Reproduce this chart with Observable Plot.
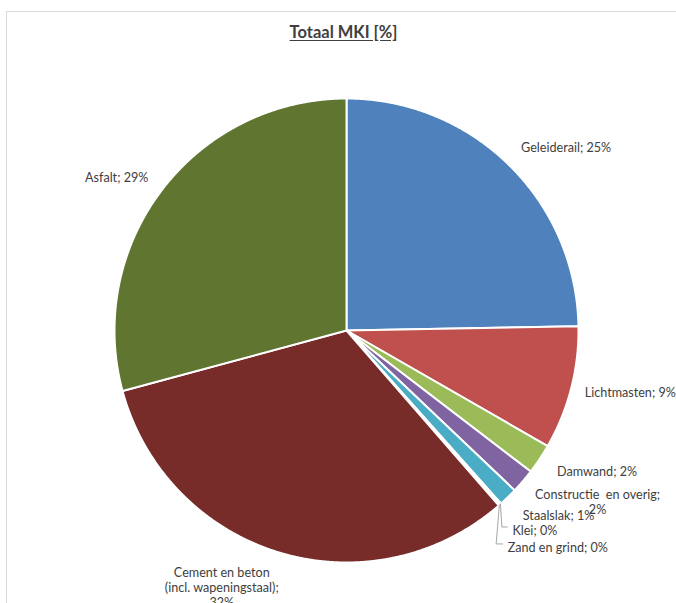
<!DOCTYPE html>
<html>
<head>
<meta charset="utf-8">
<script src="https://cdn.jsdelivr.net/npm/d3@7"></script>
<script src="https://cdn.jsdelivr.net/npm/@observablehq/plot@0.6"></script>
<style>
  html, body { margin: 0; padding: 0; background: #fff; }
  #wrap { position: relative; width: 676px; height: 603px; overflow: hidden; }
  #frame { position: absolute; left: 6px; top: 11px; right: -2px; bottom: -2px;
           border-top: 1px solid #D9D9D9; border-left: 1px solid #D9D9D9; }
  #title { position: absolute; top: 22px; left: 0; width: 687px; text-align: center;
           font: bold 16.5px Lato, "Open Sans", sans-serif; color: #404040;
           text-decoration: underline; text-underline-offset: 2px; }
  #chart { position: absolute; left: 0; top: 0; }
</style>
</head>
<body>
<div id="wrap">
  <div id="frame"></div>
  <div id="title">Totaal MKI [%]</div>
  <div id="chart"></div>
</div>
<script>
// ---- data ----
const categories = ["Geleiderail", "Lichtmasten", "Damwand", "Constructie  en overig", "Staalslak",
                    "Klei", "Zand en grind", "Cement en beton\n(incl. wapeningstaal)", "Asfalt"];
const values = [24.7, 8.6, 2.1, 1.7, 1.3, 0.1, 0.1, 32.2, 29.2];
const colors = ["#4F81BD", "#C0504D", "#9BBB59", "#8064A2", "#4BACC6",
                "#F79646", "#2C4D75", "#772C2A", "#5F7530"];

// ---- label layout (separate from data) ----
const labelSep = [" ", " ", " ", "\n", " ", " ", " ", "\n", " "];
const labelRadius = [1.09, 1.06, 1.09, 1.31, 1.10, 1.12, 1.165, 1.23, 1.08];
const labelAngleShift = [-0.8, 0, 0, -6.2, 0.4, 1.9, 4.6, 9, 0.3];
const labelAnchor = ["start", "start", "start", "middle", "start", "start", "start", "middle", "end"];
const leaderFor = ["Klei", "Zand en grind"];
const leaderCornerDx = { "Klei": 0.006, "Zand en grind": -0.014 };

// ---- build slices ----
const total = d3.sum(values);
let acc = 0;
const slices = categories.map((name, i) => {
  const a0 = acc / total * 2 * Math.PI;
  acc += values[i];
  const a1 = acc / total * 2 * Math.PI;
  const n = Math.max(2, Math.ceil((a1 - a0) / 0.004));
  const pts = [{x: 0, y: 0}];
  for (let k = 0; k <= n; k++) {
    const a = a0 + (a1 - a0) * k / n;
    pts.push({x: Math.sin(a), y: Math.cos(a)});
  }
  pts.push({x: 0, y: 0});
  const mid = (a0 + a1) / 2;
  const la = mid + labelAngleShift[i] * Math.PI / 180;
  const r = labelRadius[i];
  return {
    name, value: values[i], color: colors[i], pts, mid,
    label: `${name};${labelSep[i]}${Math.round(values[i])}%`,
    lx: r * Math.sin(la), ly: r * Math.cos(la), anchor: labelAnchor[i]
  };
});

const leaders = slices.filter(s => leaderFor.includes(s.name)).map(s => {
  const ex = Math.sin(s.mid), ey = Math.cos(s.mid);
  const cx = ex + leaderCornerDx[s.name];
  return [{x: ex, y: ey}, {x: cx, y: s.ly + 0.015}, {x: s.lx - 0.022, y: s.ly + 0.015}];
});

const marks = [];
slices.forEach(s => {
  marks.push(Plot.line(s.pts, {x: "x", y: "y", fill: s.color, stroke: "white",
                               strokeWidth: 2, strokeLinejoin: "round", curve: "linear"}));
});
leaders.forEach(l => {
  marks.push(Plot.line(l, {x: "x", y: "y", stroke: "#A6A6A6", strokeWidth: 1, curve: "linear"}));
});
["start", "middle", "end"].forEach(anchor => {
  marks.push(Plot.text(slices.filter(s => s.anchor === anchor), {
    x: "lx", y: "ly", text: "label", textAnchor: anchor,
    fill: "#404040", fontSize: 12.6, lineHeight: 1.2
  }));
});

const chart = Plot.plot({
  width: 676,
  height: 603,
  margin: 0,
  style: {fontFamily: "Lato, 'Open Sans', sans-serif", background: "transparent", overflow: "visible"},
  x: {domain: [-1, 1], range: [114, 578], axis: null},
  y: {domain: [-1, 1], range: [562, 98], axis: null},
  marks
});
document.getElementById("chart").appendChild(chart);
</script>
</body>
</html>
